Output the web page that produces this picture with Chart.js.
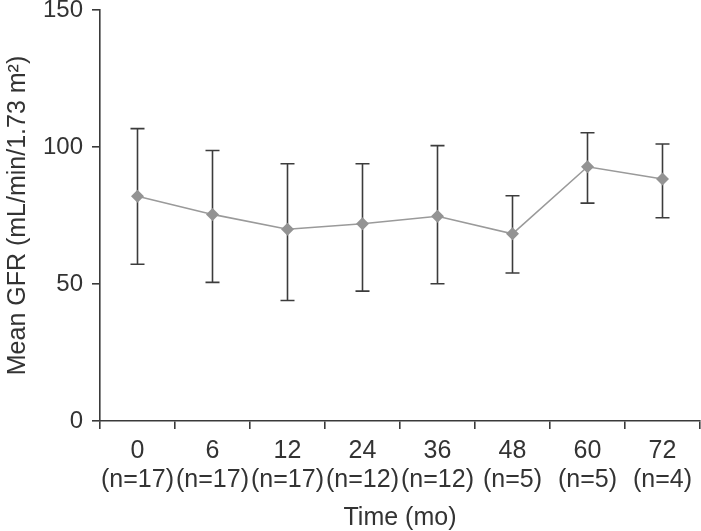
<!DOCTYPE html>
<html>
<head>
<meta charset="utf-8">
<script src="https://cdn.jsdelivr.net/npm/chart.js@4/dist/chart.umd.min.js"></script>
<style>
  html, body { margin: 0; padding: 0; background: #fff; overflow: hidden; }
  #wrap { width: 701px; height: 531px; }
</style>
</head>
<body>
<div id="wrap"><canvas id="gfrChart"></canvas></div>
<script>
// data
const months = ['0', '6', '12', '24', '36', '48', '60', '72'];
const counts = ['(n=17)', '(n=17)', '(n=17)', '(n=12)', '(n=12)', '(n=5)', '(n=5)', '(n=4)'];
const meanGfr = [82.0, 75.4, 70.0, 72.0, 74.7, 68.3, 92.8, 88.3];
const upperBar = [106.7, 98.7, 93.9, 93.9, 100.5, 82.2, 105.2, 101.1];
const lowerBar = [57.2, 50.6, 44.0, 47.4, 50.1, 54.0, 79.5, 74.2];
const yTicks = [0, 50, 100, 150];

const txt = '#333333';
const axisCol = '#3a3a3a';
const fontFam = '"Liberation Sans", Arial, sans-serif';

// error bars drawn under the markers
const errorBars = {
  id: 'errorBars',
  beforeDatasetsDraw(chart) {
    const ctx = chart.ctx;
    const y = chart.scales.y;
    const meta = chart.getDatasetMeta(0);
    ctx.save();
    ctx.strokeStyle = '#3c3c3c';
    ctx.lineWidth = 1.6;
    meta.data.forEach((pt, i) => {
      const x = pt.x;
      const yt = y.getPixelForValue(upperBar[i]);
      const yb = y.getPixelForValue(lowerBar[i]);
      ctx.beginPath();
      ctx.moveTo(x, yt); ctx.lineTo(x, yb);
      ctx.moveTo(x - 7, yt); ctx.lineTo(x + 7, yt);
      ctx.moveTo(x - 7, yb); ctx.lineTo(x + 7, yb);
      ctx.stroke();
    });
    ctx.restore();
  }
};

new Chart(document.getElementById('gfrChart'), {
  type: 'line',
  data: {
    labels: months.map((m, i) => [m, counts[i]]),
    datasets: [{
      data: meanGfr,
      borderColor: '#9a9a9a',
      borderWidth: 1.6,
      pointStyle: 'rectRot',
      pointRadius: 6.5,
      pointBackgroundColor: '#939393',
      pointBorderWidth: 0,
      tension: 0,
      clip: false
    }]
  },
  options: {
    responsive: true,
    maintainAspectRatio: false,
    animation: false,
    layout: { autoPadding: false, padding: { top: 10, right: 1, left: 0, bottom: 0 } },
    plugins: { legend: { display: false }, tooltip: { enabled: false } },
    scales: {
      x: {
        offset: true,
        grid: { offset: true, drawOnChartArea: false, tickLength: 8, color: axisCol, lineWidth: 1.6 },
        border: { color: axisCol, width: 1.6 },
        ticks: { color: txt, font: { family: fontFam, size: 25, lineHeight: 1.18 }, padding: 7, maxRotation: 0, autoSkip: false },
        title: { display: true, text: 'Time (mo)', color: txt, font: { family: fontFam, size: 25, lineHeight: 1.05 }, padding: { top: 2, bottom: 0 } },
        afterFit(s) { s.height = 110; s.paddingLeft = 0; s.paddingRight = 0; }
      },
      y: {
        min: 0,
        max: 150,
        afterBuildTicks(s) { s.ticks = yTicks.map(v => ({ value: v })); },
        grid: { drawOnChartArea: false, tickLength: 8, color: axisCol, lineWidth: 1.6 },
        border: { color: axisCol, width: 1.6 },
        ticks: { color: txt, font: { family: fontFam, size: 24 }, padding: 9 },
        title: { display: true, text: 'Mean GFR (mL/min/1.73 m²)', color: txt, font: { family: fontFam, size: 25 }, padding: { top: 3, bottom: 4 } },
        afterFit(s) { s.width = 100; s.paddingTop = 0; s.paddingBottom = 0; }
      }
    }
  },
  plugins: [errorBars]
});
</script>
</body>
</html>
